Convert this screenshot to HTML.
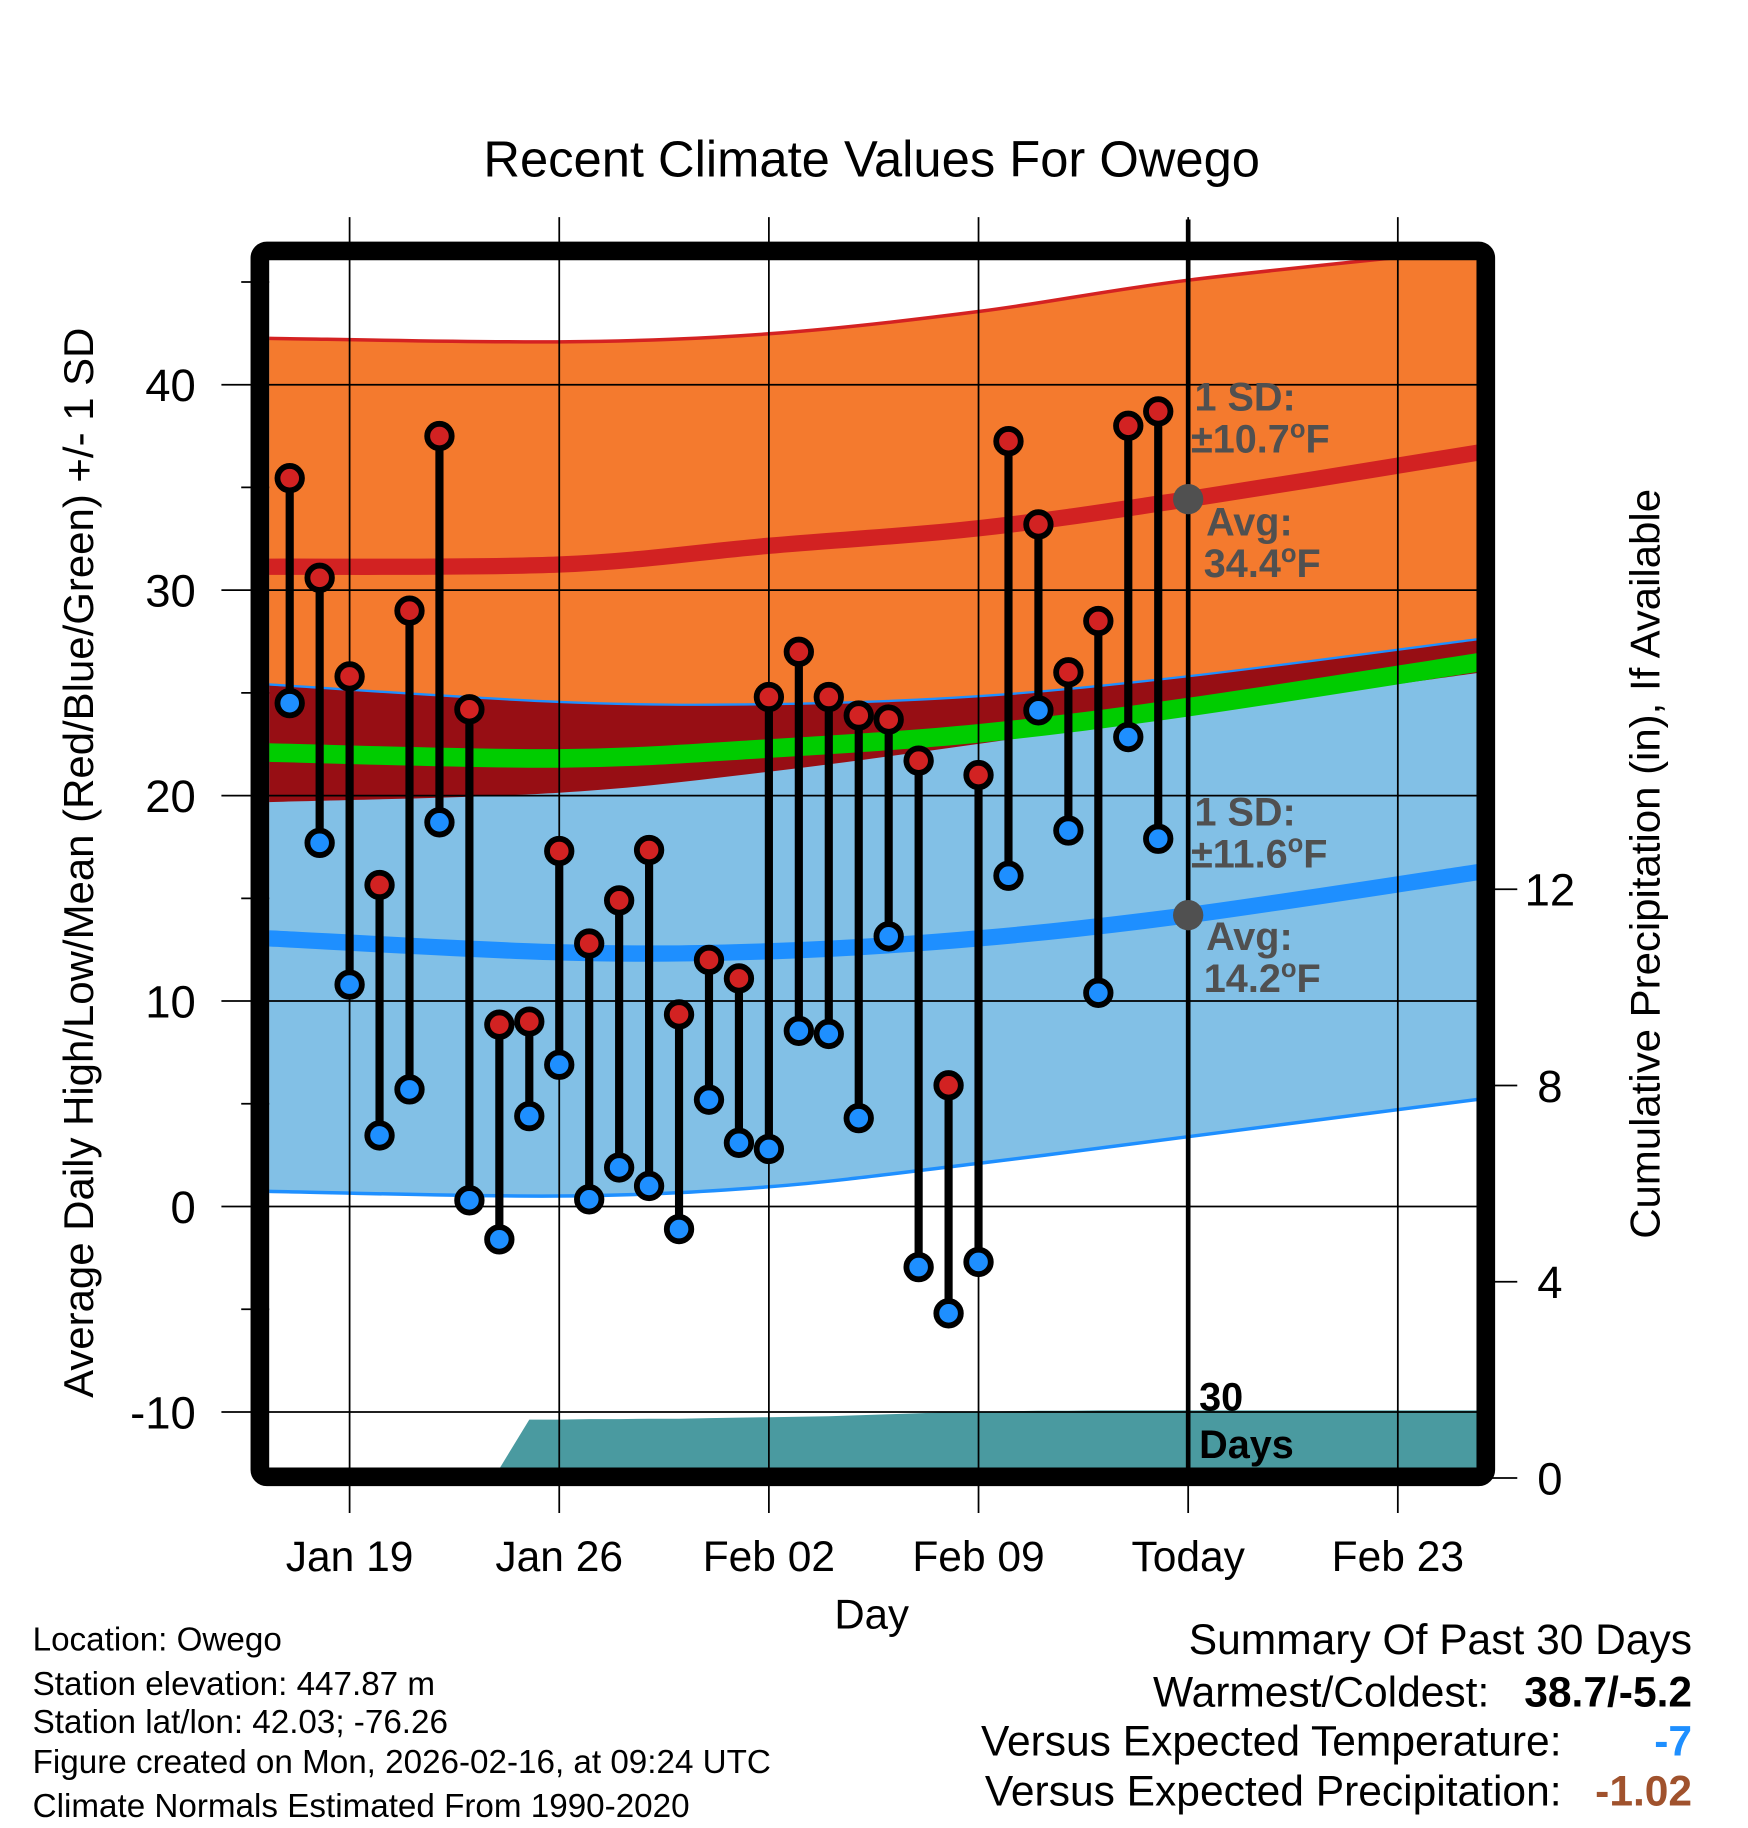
<!DOCTYPE html>
<html><head><meta charset="utf-8"><style>
html,body{margin:0;padding:0;background:#fff}
svg{display:block;font-family:"Liberation Sans",Arial,sans-serif}
</style></head><body>
<svg id="chart" width="1748" height="1828" viewBox="0 0 1500 1568" xmlns="http://www.w3.org/2000/svg">
<defs><clipPath id="plotclip"><rect x="231" y="222" width="1037" height="1038"/></clipPath></defs>
</svg>
<script>
// ---- data ----
const dayLabels = ["Jan 19","Jan 26","Feb 02","Feb 09","Today","Feb 23"];
const dayLabelIdx = [2,9,16,23,30,37];
const normDays = [-0.7,9,16,23,30,39.7];
const highUpper = [42.26,42.09,42.48,43.56,45.09,46.6];
const highAvg = [31.14,31.25,32.16,33.01,34.43,36.7];
const lowUpper = [25.41,24.56,24.45,24.84,25.81,27.62];
const highLower = [19.68,20.14,21.16,22.52,24.0,25.98];
const lowAvg = [13.05,12.37,12.42,13.05,14.18,16.28];
const lowLower = [0.74,0.51,0.96,2.1,3.4,5.22];
const dailyHigh = [35.45,30.6,25.8,15.65,29.0,37.5,24.2,8.85,9.0,17.3,12.8,14.9,17.35,9.35,12.0,11.1,24.8,27.0,24.8,23.9,23.7,21.7,5.9,21.0,37.25,33.2,26.0,28.5,38.0,38.7];
const dailyLow = [24.5,17.7,10.8,3.46,5.7,18.7,0.3,-1.6,4.4,6.9,0.35,1.9,1.0,-1.1,5.2,3.1,2.8,8.55,8.4,4.3,13.15,-2.95,-5.2,-2.7,16.1,24.15,18.3,10.4,22.85,17.9];
const precipCum = [0,0,0,0,0,0,0,0.19,1.19,1.19,1.2,1.2,1.21,1.21,1.22,1.23,1.24,1.25,1.26,1.28,1.3,1.32,1.34,1.35,1.36,1.37,1.37,1.38,1.38,1.38];
const yTicks = [-10,0,10,20,30,40];
const pTicks = [0,4,8,12];

// ---- axes ----
const X = d => 248.6 + 25.7*d;
const Y = v => 1035 - 17.63*v;
const P = p => 1268 - 42.1*p;
const NS = "http://www.w3.org/2000/svg";
const svg = document.getElementById('chart');
function mk(tag, attrs, parent){const e=document.createElementNS(NS,tag);for(const k in attrs)e.setAttribute(k,attrs[k]);(parent||svg).appendChild(e);return e;}
function txt(s, attrs, parent){const e=mk('text',attrs,parent);e.textContent=s;return e;}
function xy(days, vals){return days.map((d,i)=>[X(d),Y(vals[i])]);}
// catmull-rom smooth path segment (without initial M)
function smooth(p){
  let s='';
  for(let i=0;i<p.length-1;i++){
    const p0=p[Math.max(0,i-1)],p1=p[i],p2=p[i+1],p3=p[Math.min(p.length-1,i+2)];
    const c1=[p1[0]+(p2[0]-p0[0])/6,p1[1]+(p2[1]-p0[1])/6];
    const c2=[p2[0]-(p3[0]-p1[0])/6,p2[1]-(p3[1]-p1[1])/6];
    s+=` C${c1[0].toFixed(1)},${c1[1].toFixed(1)} ${c2[0].toFixed(1)},${c2[1].toFixed(1)} ${p2[0].toFixed(1)},${p2[1].toFixed(1)}`;
  }
  return s;
}
function linePath(p){return `M${p[0][0].toFixed(1)},${p[0][1].toFixed(1)}`+smooth(p);}
function bandPath(a,b){const br=b.slice().reverse();return linePath(a)+` L${br[0][0].toFixed(1)},${br[0][1].toFixed(1)}`+smooth(br)+' Z';}

const plot = mk('g',{'clip-path':'url(#plotclip)'});



let e = mk('path',{d:bandPath(xy(normDays,lowUpper),xy(normDays,lowLower)),fill:'#82c0e6'},plot);


e = mk('path',{d:bandPath(xy(normDays,lowUpper),xy(normDays,highLower)),fill:'#970e14'},plot);


e = mk('path',{d:bandPath(xy(normDays,highUpper),xy(normDays,lowUpper)),fill:'#f47a2e'},plot);


const meanVals = highAvg.map((h,i)=>(h+lowAvg[i])/2);
e = mk('path',{d:linePath(xy(normDays,meanVals)),fill:'none',stroke:'#00cc00','stroke-width':16},plot);


e = mk('path',{d:linePath(xy(normDays,highUpper)),fill:'none',stroke:'#d42222','stroke-width':3},plot);


e = mk('path',{d:linePath(xy(normDays,lowUpper)),fill:'none',stroke:'#1e8fff','stroke-width':2},plot);


e = mk('path',{d:linePath(xy(normDays,lowLower)),fill:'none',stroke:'#1e8fff','stroke-width':3},plot);


e = mk('path',{d:linePath(xy(normDays,highAvg)),fill:'none',stroke:'#d22222','stroke-width':14},plot);


e = mk('path',{d:linePath(xy(normDays,lowAvg)),fill:'none',stroke:'#1e8fff','stroke-width':14},plot);



// precipitation area
let pp = [X(0)+','+P(0)];
precipCum.forEach((p,i)=>{pp.push(X(i).toFixed(1)+','+P(p).toFixed(1));});
pp.push(X(39.7)+','+P(precipCum[precipCum.length-1]).toFixed(1));
pp.push(X(39.7)+','+P(0));
e = mk('polygon',{points:pp.join(' '),fill:'#4a9aa0'},plot);



// grid
yTicks.forEach(v=>{
  e = mk('line',{x1:190,x2:1268,y1:Y(v),y2:Y(v),stroke:'#000','stroke-width':1.5});
  
  
  e = txt(String(v),{x:168,y:Y(v)+14,'text-anchor':'end','font-size':39});
  
  
});
[-5,5,15,25,35,45].forEach(v=>{
  e = mk('line',{x1:207,x2:231,y1:Y(v),y2:Y(v),stroke:'#000','stroke-width':1.5});
  
  
});
dayLabelIdx.forEach((d,i)=>{
  e = mk('line',{x1:X(d),x2:X(d),y1:186,y2:1298,stroke:'#000','stroke-width':1.5});
  
  
  e = txt(dayLabels[i],{x:X(d),y:1348,'text-anchor':'middle','font-size':36.5});
  
  
});
pTicks.forEach(p=>{
  e = mk('line',{x1:1275,x2:1302,y1:P(p),y2:P(p),stroke:'#000','stroke-width':1.5});
  
  
  e = txt(String(p),{x:1330,y:P(p)+14,'text-anchor':'middle','font-size':39});
  
  
});

e = mk('line',{x1:X(30),x2:X(30),y1:188,y2:1262,stroke:'#000','stroke-width':4});



dailyHigh.forEach((h,i)=>{
  const l = dailyLow[i], x = X(i);
  const g = mk('g',{});
  
  
  mk('line',{x1:x,x2:x,y1:Y(h),y2:Y(l),stroke:'#000','stroke-width':7},g);
  mk('circle',{cx:x,cy:Y(h),r:10.5,fill:'#d22222',stroke:'#000','stroke-width':5},g);
  mk('circle',{cx:x,cy:Y(l),r:10.5,fill:'#1e8fff',stroke:'#000','stroke-width':5},g);
});

e = mk('circle',{cx:X(30),cy:Y(highAvg[4]),r:13,fill:'#505050'});


e = mk('circle',{cx:X(30),cy:Y(lowAvg[4]),r:13,fill:'#505050'});



e = mk('rect',{x:223,y:215,width:1052,height:1052,rx:6,fill:'none',stroke:'#000','stroke-width':16});


</script>
<svg style="position:absolute;left:0;top:0" width="1748" height="1828" viewBox="0 0 1500 1568" xmlns="http://www.w3.org/2000/svg" font-family="Liberation Sans, Arial, sans-serif">
<text x="748" y="151" text-anchor="middle" font-size="43.5">Recent Climate Values For Owego</text>
<text x="748" y="1397" text-anchor="middle" font-size="36">Day</text>
<text transform="translate(80,740) rotate(-90)" text-anchor="middle" font-size="36">Average Daily High/Low/Mean (Red/Blue/Green) +/- 1 SD</text>
<text transform="translate(1424,741) rotate(-90)" text-anchor="middle" font-size="36">Cumulative Precipitation (in), If Available</text>
<g fill="#505050" font-weight="bold" font-size="34">
<text x="1025" y="352">1 SD:</text>
<text x="1022" y="388">±10.7<tspan font-size="22" dy="-13">o</tspan><tspan dy="13">F</tspan></text>
<text x="1035" y="459">Avg:</text>
<text x="1033" y="495">34.4<tspan font-size="22" dy="-13">o</tspan><tspan dy="13">F</tspan></text>
</g>
<g fill="#505050" font-weight="bold" font-size="34">
<text x="1025" y="708">1 SD:</text>
<text x="1022" y="744">±11.6<tspan font-size="22" dy="-13">o</tspan><tspan dy="13">F</tspan></text>
<text x="1035" y="815">Avg:</text>
<text x="1033" y="851">14.2<tspan font-size="22" dy="-13">o</tspan><tspan dy="13">F</tspan></text>
</g>
<g font-weight="bold" font-size="34">
<text x="1029" y="1210">30</text>
<text x="1029" y="1251">Days</text>
</g>
<g font-size="28.5">
<text x="28" y="1416">Location: Owego</text>
<text x="28" y="1454">Station elevation: 447.87 m</text>
<text x="28" y="1487">Station lat/lon: 42.03; -76.26</text>
<text x="28" y="1521">Figure created on Mon, 2026-02-16, at 09:24 UTC</text>
<text x="28" y="1559">Climate Normals Estimated From 1990-2020</text>
</g>
<g font-size="36.5" text-anchor="end">
<text x="1452" y="1419">Summary Of Past 30 Days</text>
<text x="1278" y="1464">Warmest/Coldest:</text>
<text x="1452" y="1464" font-weight="bold">38.7/-5.2</text>
<text x="1340" y="1506">Versus Expected Temperature:</text>
<text x="1452" y="1506" font-weight="bold" fill="#1e8fff">-7</text>
<text x="1340" y="1549">Versus Expected Precipitation:</text>
<text x="1452" y="1549" font-weight="bold" fill="#a0522d">-1.02</text>
</g>
</svg>
</body></html>
